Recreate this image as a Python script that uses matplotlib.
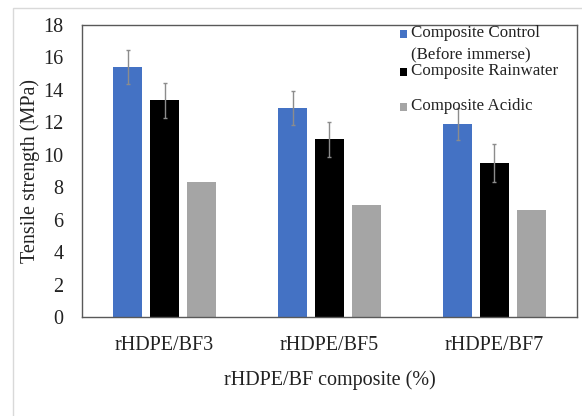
import numpy as np
import matplotlib.pyplot as plt
from matplotlib.patches import Rectangle

plt.rcParams['font.family'] = ['Liberation Serif', 'DejaVu Serif']

# Tensile strength (MPa)
categories = ["rHDPE/BF3", "rHDPE/BF5", "rHDPE/BF7"]
series_names = ["Composite Control\n(Before immerse)", "Composite Rainwater", "Composite Acidic"]
control = [15.4, 12.9, 11.9]
control_err = [1.05, 1.05, 1.0]
rainwater = [13.35, 10.95, 9.5]
rainwater_err = [1.1, 1.1, 1.15]
acidic = [8.3, 6.9, 6.6]

colors = ["#4472C4", "#000000", "#A5A5A5"]

fig = plt.figure(figsize=(5.82, 4.16), dpi=100)
ax = fig.add_axes([0.1409, 0.238, 0.8505, 0.7019])

# light grey chart-area border
fig.patches.append(Rectangle((13 / 582, -0.1), 1.2, 1 - 8 / 416 + 0.1,
                             transform=fig.transFigure, fill=False,
                             edgecolor="#D9D9D9", linewidth=1.0))

x = np.arange(len(categories))
w = 0.176
step = 0.224
err_kw = dict(ecolor="#8C8C8C", elinewidth=1.0, capsize=1.5, capthick=1.0)
ax.bar(x - step, control, w, color=colors[0], yerr=control_err, error_kw=err_kw)
ax.bar(x, rainwater, w, color=colors[1], yerr=rainwater_err, error_kw=err_kw)
ax.bar(x + step, acidic, w, color=colors[2])

ax.set_xlim(-0.5, 2.5)
ax.set_ylim(0, 18)
ax.set_yticks(np.arange(0, 19, 2))
ax.set_xticks(x)
ax.set_xticklabels(categories)
ax.tick_params(axis="both", length=0, labelsize=14.5, colors="#222222")
ax.tick_params(axis="y", pad=13.5)
ax.tick_params(axis="x", pad=14)
for s in ax.spines.values():
    s.set_color("#595959")
    s.set_linewidth(1.0)

ax.set_ylabel("Tensile strength (MPa)", fontsize=14.5, labelpad=2, color="#222222")
ax.set_xlabel("rHDPE/BF composite (%)", fontsize=14.5, labelpad=11, color="#222222")

# legend drawn Excel-style, top right inside the plot area
leg_y = [34, 72, 107]
for name, c, yy in zip(series_names, colors, leg_y):
    fig.patches.append(Rectangle((400 / 582, 1 - (yy + 3.5) / 416), 7 / 582, 7 / 416,
                                 transform=fig.transFigure, facecolor=c,
                                 edgecolor="none"))
    fig.text(411 / 582, 1 - (yy - 9) / 416, name, fontsize=12.2, va="top",
             ha="left", color="#222222", linespacing=1.5)

fig.savefig("out.png", dpi=100)
